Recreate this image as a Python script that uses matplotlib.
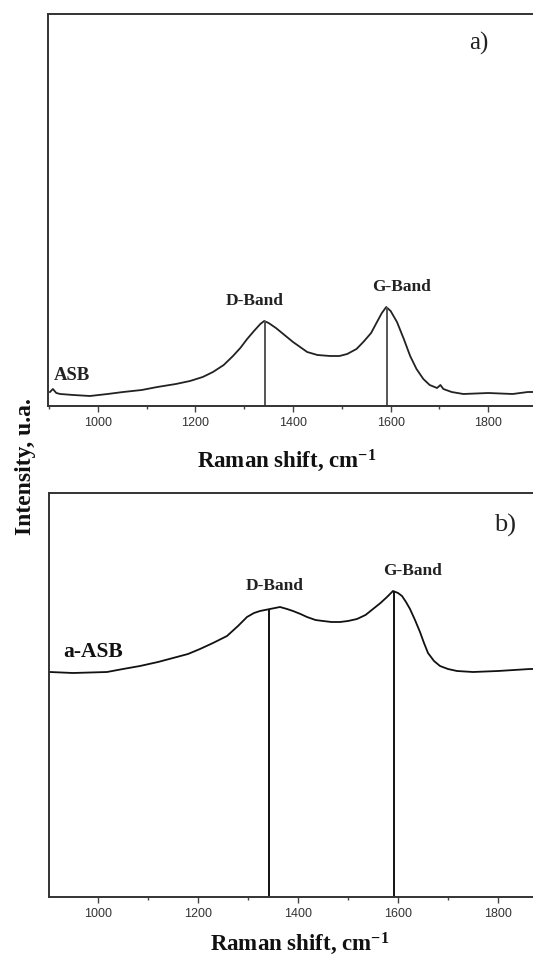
import matplotlib
matplotlib.use("Agg")
import matplotlib.pyplot as plt
from matplotlib.ticker import MultipleLocator

plt.rcParams['mathtext.fontset'] = 'custom'
plt.rcParams['mathtext.rm'] = 'Liberation Serif:bold'
plt.rcParams['mathtext.it'] = 'Liberation Serif:italic:bold'
plt.rcParams['mathtext.bf'] = 'Liberation Serif:bold'

# ---- data ----
shift_a = [902, 908, 915, 923, 950, 984, 1020, 1052, 1090, 1122, 1160, 1189, 1215,
           1236, 1258, 1277, 1292, 1306, 1320, 1333, 1341, 1350, 1365, 1380, 1400,
           1429, 1450, 1476, 1495, 1511, 1530, 1544, 1560, 1572, 1582, 1591, 1600,
           1613, 1627, 1640, 1653, 1667, 1680, 1695, 1702, 1708, 1725, 1749, 1800,
           1850, 1881, 1950]
int_a = [14, 17, 13, 12, 11, 10, 12, 14, 16, 19, 22, 25, 29,
         34, 41, 50, 58, 67, 75, 82, 85, 83, 78, 72, 64,
         54, 51, 50, 50, 52, 57, 64, 73, 84, 93, 99, 95,
         84, 67, 50, 37, 27, 21, 18, 21, 17, 14, 12, 13,
         12, 14, 14]

shift_b = [904, 950, 1018, 1050, 1084, 1120, 1150, 1180, 1204, 1230, 1258, 1280, 1298,
           1312, 1324, 1344, 1364, 1378, 1390, 1405, 1418, 1435, 1450, 1467, 1484,
           1500, 1518, 1535, 1550, 1565, 1578, 1590, 1600, 1608, 1616, 1624, 1634,
           1644, 1652, 1660, 1672, 1684, 1700, 1718, 1750, 1800, 1864, 1930]
int_b = [225, 224, 225, 228, 231, 235, 239, 243, 248, 254, 261, 271, 280,
         284, 286, 288, 290, 288, 286, 283, 280, 277, 276, 275, 275,
         276, 278, 282, 288, 294, 300, 306, 304, 301, 295, 288, 277,
         265, 254, 244, 236, 231, 228, 226, 225, 226, 228, 228]

band_pos = [1343, 1592]
band_names = ["D-Band", "G-Band"]
band_top_a = [85, 99]
band_top_b = [288, 306]

xticks = [1000, 1200, 1400, 1600, 1800]

W, H = 533, 962
fig = plt.figure(figsize=(W / 100, H / 100), dpi=100)

def px_axes(x0, y0, x1, y1):
    return fig.add_axes([x0 / W, 1 - y1 / H, (x1 - x0) / W, (y1 - y0) / H])

ax_a = px_axes(48, 15, 560, 407)
ax_b = px_axes(49, 494, 560, 898)

def style(ax, xlim, ylim):
    ax.set_xlim(*xlim)
    ax.set_ylim(*ylim)
    ax.set_yticks([])
    ax.set_xticks(xticks)
    ax.xaxis.set_minor_locator(MultipleLocator(100))
    ax.tick_params(axis='x', which='major', direction='out', length=4, width=1.0,
                   color='#444', pad=3)
    ax.tick_params(axis='x', which='minor', direction='out', length=2.5, width=1.0,
                   color='#444')
    for lab in ax.get_xticklabels():
        lab.set_fontfamily('Liberation Sans')
        lab.set_fontsize(9)
        lab.set_color('#333')
    for s in ['top', 'left', 'bottom']:
        ax.spines[s].set_color('#333')
        ax.spines[s].set_linewidth(1.4)
    ax.spines['right'].set_visible(False)

style(ax_a, (898, 1947), (0, 392))
style(ax_b, (902, 1924), (0, 404))

ax_a.plot(shift_a, int_a, color='#222', lw=1.3)
ax_b.plot(shift_b, int_b, color='#111', lw=1.3)

ax_a.vlines(band_pos, 0, band_top_a, color='#555', lw=1.4)
ax_b.vlines(band_pos, 0, band_top_b, color='#111', lw=1.4)

def ftext(x, y, s, **kw):
    fig.text(x / W, 1 - y / H, s, ha='center', va='center', **kw)

serif = 'Liberation Serif'
ftext(255, 301, band_names[0], fontsize=12.5, fontweight='bold', family=serif, color='#222')
ftext(402, 287, band_names[1], fontsize=12.5, fontweight='bold', family=serif, color='#222')
ftext(72, 375, "ASB", fontsize=13.5, fontweight='bold', family=serif, color='#222')
ftext(479, 43, "a)", fontsize=18, family=serif, color='#222')

ftext(275, 586, band_names[0], fontsize=12.5, fontweight='bold', family=serif, color='#222')
ftext(413, 571, band_names[1], fontsize=12.5, fontweight='bold', family=serif, color='#222')
ftext(93, 652, "a-ASB", fontsize=15.5, fontweight='bold', family=serif, color='#111')
ftext(505, 525, "b)", fontsize=19, family=serif, color='#222')

xl = 'Raman shift, cm$^{-1}$'
ftext(287, 461, xl, fontsize=16.5, fontweight='bold', family=serif, color='#111')
ftext(300, 944, xl, fontsize=16.5, fontweight='bold', family=serif, color='#111')

ftext(25, 467, "Intensity, u.a.", fontsize=17, fontweight='bold', family=serif,
      color='#111', rotation=90)

fig.savefig("out.png", dpi=100, facecolor='white')
